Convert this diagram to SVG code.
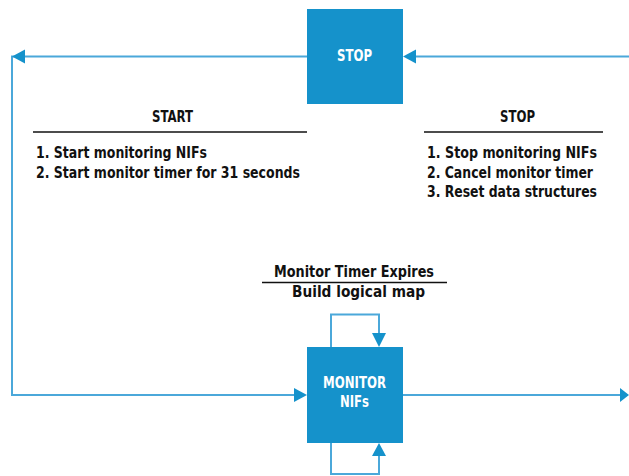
<svg xmlns="http://www.w3.org/2000/svg" width="629" height="476" viewBox="0 0 629 476">
<style>
.box{fill:#1592CB}
.wl{fill:#fff;font-family:"DejaVu Sans Condensed","Liberation Sans",sans-serif;font-weight:bold;font-size:15px;text-anchor:middle}
.t{fill:#111;font-family:"DejaVu Sans Condensed","Liberation Sans",sans-serif;font-weight:bold;font-size:16px}
.h{font-size:15px}
.c{text-anchor:middle}
.rule{stroke:#111;stroke-width:1.3}
.ln{fill:none;stroke:#4BA8DA;stroke-width:2}
.ah{fill:#1592CB}
</style>
<rect width="629" height="476" fill="#fff"/>
<g id="connectors">
<polyline class="ln" points="307,56.5 12,56.5 12,395 296,395"/>
<polygon class="ah" points="12,56.5 25,49.5 25,63.5"/>
<polygon class="ah" points="307,395 294,388 294,402"/>
<line class="ln" x1="629" y1="56.5" x2="414" y2="56.5"/>
<polygon class="ah" points="403,56.5 416,49.5 416,63.5"/>
<line class="ln" x1="403" y1="395" x2="621" y2="395"/>
<polygon class="ah" points="629,395 620,388 620,402"/>
<polyline class="ln" points="331,347 331,314.5 379,314.5 379,335"/>
<polygon class="ah" points="379,347 372,333 386,333"/>
<polyline class="ln" points="331,443 331,474 379,474 379,455"/>
<polygon class="ah" points="379,443 372,456 386,456"/>
</g>
<g id="stop-node">
<rect class="box" x="307" y="9" width="96" height="95"/>
<text class="wl" x="337" y="61" text-anchor="start" style="text-anchor:start" textLength="35" lengthAdjust="spacingAndGlyphs">STOP</text>
</g>
<g id="monitor-node">
<rect class="box" x="307" y="347" width="96" height="96"/>
<text class="wl" x="323" y="388" style="text-anchor:start" textLength="63" lengthAdjust="spacingAndGlyphs">MONITOR</text>
<text class="wl" x="340" y="407" style="text-anchor:start" textLength="29" lengthAdjust="spacingAndGlyphs">NIFs</text>
</g>
<g id="start-label">
<text class="t h" x="152" y="121.5" textLength="41" lengthAdjust="spacingAndGlyphs">START</text>
<line class="rule" x1="33" y1="132" x2="307" y2="132"/>
<text class="t" x="36" y="158" textLength="171" lengthAdjust="spacingAndGlyphs">1. Start monitoring NIFs</text>
<text class="t" x="36" y="177.5" textLength="264" lengthAdjust="spacingAndGlyphs">2. Start monitor timer for 31 seconds</text>
</g>
<g id="stop-label">
<text class="t h" x="500" y="121.5" textLength="35" lengthAdjust="spacingAndGlyphs">STOP</text>
<line class="rule" x1="424" y1="132" x2="603" y2="132"/>
<text class="t" x="427" y="158" textLength="170" lengthAdjust="spacingAndGlyphs">1. Stop monitoring NIFs</text>
<text class="t" x="427" y="177.5" textLength="166" lengthAdjust="spacingAndGlyphs">2. Cancel monitor timer</text>
<text class="t" x="427" y="197" textLength="170" lengthAdjust="spacingAndGlyphs">3. Reset data structures</text>
</g>
<g id="timer-label">
<text class="t" x="274" y="277" textLength="160" lengthAdjust="spacingAndGlyphs">Monitor Timer Expires</text>
<line class="rule" x1="262" y1="282.5" x2="447" y2="282.5"/>
<text class="t" x="292" y="297" textLength="133" lengthAdjust="spacingAndGlyphs">Build logical map</text>
</g>
</svg>
